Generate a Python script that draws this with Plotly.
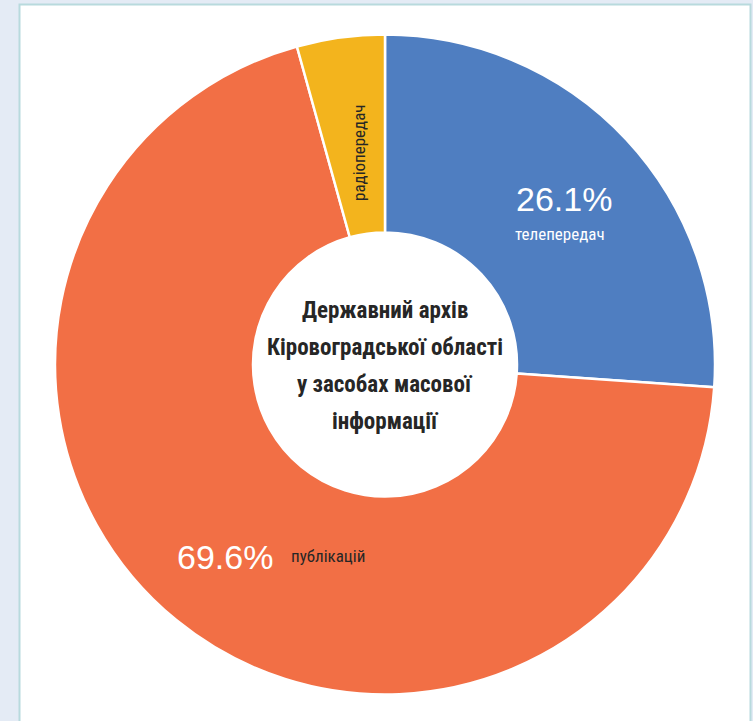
import math
import plotly.graph_objects as go

categories = ["телепередач", "публікацій", "радіопередач"]
values = [26.1, 69.6, 4.3]
colors = ["#4f7ec1", "#f26f45", "#f3b41d"]
center_title = ["Державний архів", "Кіровоградської області", "у засобах масової", "інформації"]

W, H = 753, 721
cx, cy, R = 385, 364.5, 330
hole = 0.40

fig = go.Figure(go.Pie(
    labels=categories,
    values=values,
    marker=dict(colors=colors, line=dict(color="white", width=2.5)),
    hole=hole,
    sort=False,
    direction="clockwise",
    rotation=0,
    textinfo="none",
    hoverinfo="label+percent",
    domain=dict(x=[(cx - R) / W, (cx + R) / W], y=[(H - cy - R) / H, (H - cy + R) / H]),
    showlegend=False,
))

narrow = "Roboto Condensed, Liberation Sans Narrow, Arial Narrow, DejaVu Sans Condensed, sans-serif"
total = sum(values)
mids = []
acc = 0
for v in values:
    mids.append((acc + v / 2) / total * 2 * math.pi)
    acc += v
rmid = (1 + hole) / 2 * R


def pos(i):
    a = mids[i]
    x = cx + rmid * math.sin(a)
    y = cy - rmid * math.cos(a)
    return x / W, 1 - y / H


def pct(v):
    return f"{v / total * 100:.1f}%"


def ann(i, text, font, dx, dy, **kw):
    x, y = pos(i)
    d = dict(x=x, y=y, xref="paper", yref="paper", text=text, showarrow=False,
             xanchor="center", yanchor="middle", font=font, xshift=dx, yshift=dy)
    d.update(kw)
    return d


pfont = dict(family="Liberation Sans, Arial, sans-serif", size=34, color="white")
annotations = [
    ann(0, pct(values[0]), pfont, 10, 8),
    ann(0, categories[0], dict(family=narrow, size=17, color="white"), 6, -27),
    ann(1, pct(values[1]), pfont, -14, -14),
    ann(1, categories[1], dict(family=narrow, size=17, color="#262626"), 89, -13),
    ann(2, categories[2], dict(family=narrow, size=17, color="#262626"), 5, -17.5, textangle=-90),
]
line_gap = 37
n = len(center_title)
for k, t in enumerate(center_title):
    annotations.append(dict(
        x=cx / W, y=1 - (cy + 1) / H, xref="paper", yref="paper",
        text=f"<b>{t}</b>", showarrow=False, xanchor="center", yanchor="middle",
        yshift=((n - 1) / 2 - k) * line_gap,
        font=dict(family=narrow, size=23, color="#262626")))

fig.update_layout(
    width=W, height=H,
    margin=dict(l=0, r=0, t=0, b=0),
    paper_bgcolor="#e4ebf5",
    plot_bgcolor="#e4ebf5",
    annotations=annotations,
    shapes=[dict(type="rect", xref="paper", yref="paper", layer="below",
                 x0=19.5 / W, x1=750.5 / W, y0=-0.01, y1=1 - 4.5 / H,
                 fillcolor="white", line=dict(color="#b8dadd", width=2))],
)

fig.write_html("out.html", config={"displayModeBar": False},
               post_script="document.body.style.margin='0';document.body.style.padding='0';"
                           "document.body.style.background='#e4ebf5';")
